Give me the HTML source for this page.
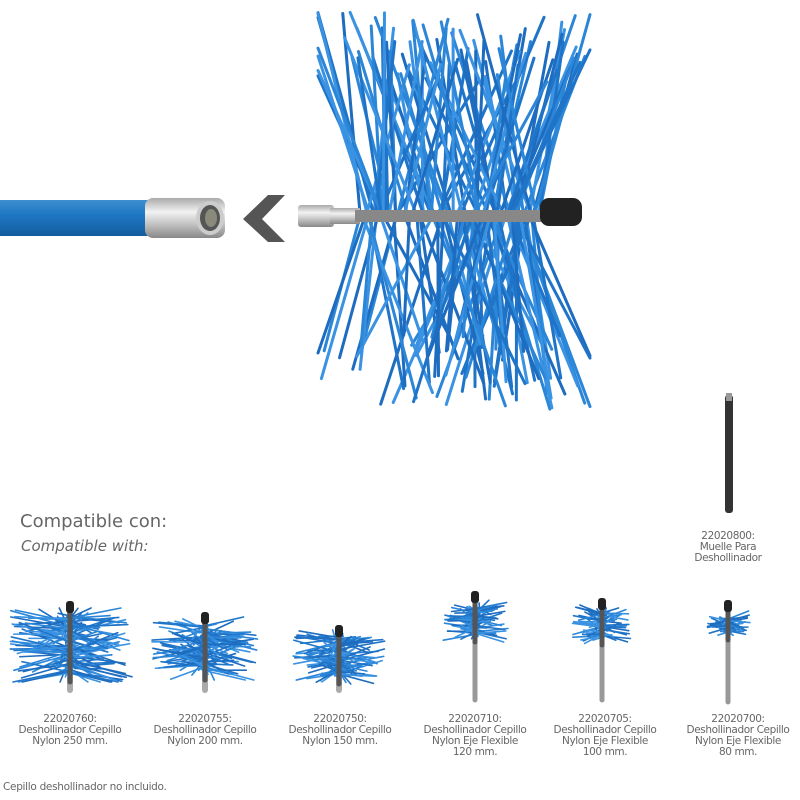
<!DOCTYPE html>
<html><head><meta charset="utf-8"><style>
body{margin:0;width:800px;height:800px;background:#fff;overflow:hidden;position:relative;font-family:"DejaVu Sans","Liberation Sans",sans-serif;color:#666}
svg{position:absolute;left:0;top:0}
.t{position:absolute;font-size:10.5px;line-height:11px;text-align:center;color:#666;letter-spacing:-0.4px}
</style></head><body>
<svg id="s" width="800" height="800" viewBox="0 0 800 800">
<defs>
<linearGradient id="hose" x1="0" y1="0" x2="0" y2="1"><stop offset="0" stop-color="#3d8fd0"/><stop offset=".4" stop-color="#1f78c4"/><stop offset="1" stop-color="#135c9e"/></linearGradient>
<linearGradient id="met" x1="0" y1="0" x2="0" y2="1"><stop offset="0" stop-color="#aaa"/><stop offset=".35" stop-color="#f2f2f2"/><stop offset=".7" stop-color="#bbb"/><stop offset="1" stop-color="#888"/></linearGradient>
</defs>
<rect x="0" y="200" width="155" height="36" fill="url(#hose)"/>
<rect x="145" y="198" width="80" height="40" rx="8" fill="url(#met)"/>
<ellipse cx="210" cy="218" rx="14" ry="17" fill="#ccc"/>
<ellipse cx="210" cy="218" rx="10" ry="13" fill="#555"/>
<ellipse cx="211" cy="218" rx="6" ry="9" fill="#8a8a7a"/>
<polygon points="285,195 268,195 243,219 268,242 285,242 262,219" fill="#555"/>
<g id="big"></g>
<rect x="298" y="205" width="36" height="22" rx="3" fill="url(#met)"/>
<rect x="330" y="208" width="30" height="16" fill="url(#met)"/>
<rect x="355" y="210" width="190" height="12" fill="#888"/>
<rect x="540" y="198" width="42" height="28" rx="9" fill="#222"/>
<rect x="725" y="395" width="8" height="118" rx="3" fill="#333"/>
<rect x="726" y="393" width="6" height="8" fill="#999"/>
<g id="small"></g>
</svg>
<div style="position:absolute;left:20px;top:511px;font-size:18px;color:#666">Compatible con:</div>
<div style="position:absolute;left:21px;top:537px;font-size:15px;font-style:italic;color:#666">Compatible with:</div>
<div class="t" style="left:670px;top:531px;width:116px">22020800:<br>Muelle Para<br>Deshollinador</div>
<div class="t" style="left:0px;top:714px;width:140px">22020760:<br>Deshollinador Cepillo<br>Nylon 250 mm.</div>
<div class="t" style="left:135px;top:714px;width:140px">22020755:<br>Deshollinador Cepillo<br>Nylon 200 mm.</div>
<div class="t" style="left:270px;top:714px;width:140px">22020750:<br>Deshollinador Cepillo<br>Nylon 150 mm.</div>
<div class="t" style="left:405px;top:714px;width:140px">22020710:<br>Deshollinador Cepillo<br>Nylon Eje Flexible<br>120 mm.</div>
<div class="t" style="left:535px;top:714px;width:140px">22020705:<br>Deshollinador Cepillo<br>Nylon Eje Flexible<br>100 mm.</div>
<div class="t" style="left:668px;top:714px;width:140px">22020700:<br>Deshollinador Cepillo<br>Nylon Eje Flexible<br>80 mm.</div>
<div style="position:absolute;left:3px;top:781px;font-size:10.5px;color:#666;letter-spacing:-0.3px">Cepillo deshollinador no incluido.</div>
<script>
var seed=7;function r(){seed=(seed*16807)%2147483647;return seed/2147483647;}
var NS="http://www.w3.org/2000/svg";
function ln(g,x1,y1,x2,y2,w,c){var l=document.createElementNS(NS,"line");l.setAttribute("x1",x1);l.setAttribute("y1",y1);l.setAttribute("x2",x2);l.setAttribute("y2",y2);l.setAttribute("stroke",c);l.setAttribute("stroke-width",w);l.setAttribute("stroke-linecap","round");g.appendChild(l);}
var big=document.getElementById("big");
var cols=["#2b86d8","#1f74c8","#3a92e2","#1d6cbf"];
for(var i=0;i<180;i++){var cx=360+r()*180,cy=216;var up=r()<0.5;
 var ex=cx+(r()-0.5)*170;ex=Math.max(318,Math.min(590,ex));
 var ey=up?12+r()*70:335+r()*75;
 ln(big,cx,cy,ex,ey,3,cols[i%4]);}
var small=document.getElementById("small");
function brush(cx,x1,x2,y1,y2,top,bot,flex,n){
 ln(small,cx,top+8,cx,bot,flex?5:6,flex?"#999":"#aaa");
 for(var i=0;i<n;i++){var sx=cx+(r()-0.5)*10,sy=y1+8+r()*(y2-y1-16);
  var ex=x1+r()*(x2-x1),ey=sy+(r()-0.5)*(y2-y1)*0.5;ey=Math.max(y1,Math.min(y2,ey));
  ln(small,sx,sy,ex,ey,1.6,cols[i%4]);}
 ln(small,cx,y1,cx,y2,5,"#555");
 var t=document.createElementNS(NS,"rect");t.setAttribute("x",cx-4);t.setAttribute("y",top);t.setAttribute("width",8);t.setAttribute("height",12);t.setAttribute("rx",3);t.setAttribute("fill","#222");small.appendChild(t);}
brush(70,10,132,608,682,601,690,false,170);
brush(205,152,258,617,680,612,690,false,150);
brush(339,293,385,628,684,625,690,false,130);
brush(475,442,508,600,642,591,700,true,95);
brush(602,572,633,605,645,598,700,true,85);
brush(728,707,750,610,640,600,702,true,65);
</script>
</body></html>
